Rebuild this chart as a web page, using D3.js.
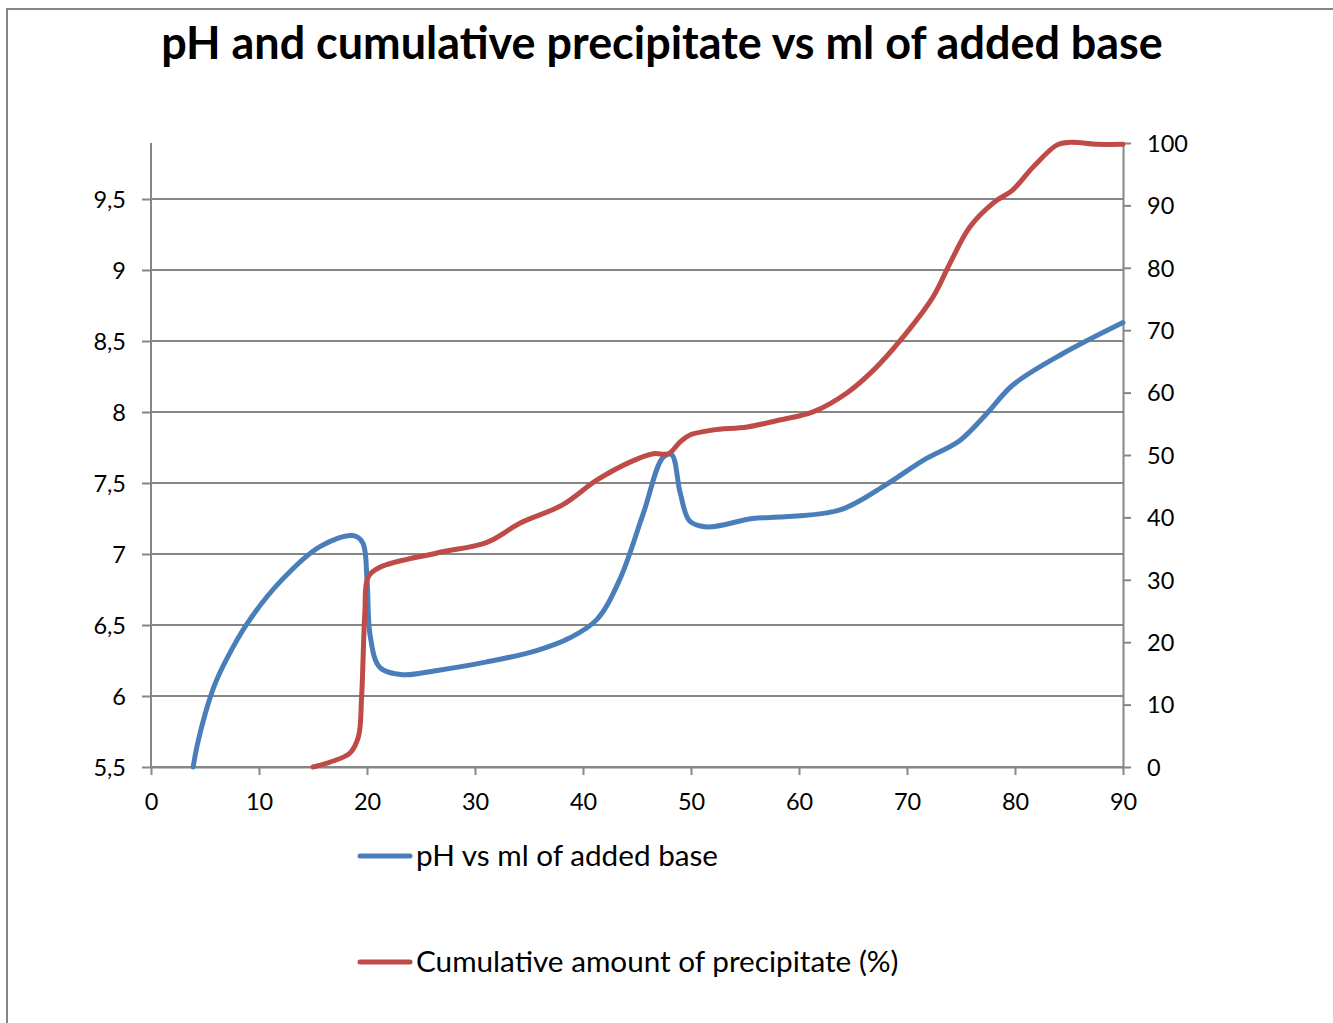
<!DOCTYPE html>
<html><head><meta charset="utf-8">
<script src="https://cdn.jsdelivr.net/npm/d3@7"></script>
<style>body{margin:0;background:#fff}svg{display:block}</style>
</head><body>
<svg id="c" width="1333" height="1023"></svg>
<script>
const titleText = "pH and cumulative precipitate vs ml of added base";
const xTicks = [0,10,20,30,40,50,60,70,80,90];
const leftTicks = [5.5,6,6.5,7,7.5,8,8.5,9,9.5];
const leftTickLabels = ["5,5","6","6,5","7","7,5","8","8,5","9","9,5"];
const rightTicks = [0,10,20,30,40,50,60,70,80,90,100];
const seriesNames = ["pH vs ml of added base","Cumulative amount of precipitate (%)"];

const phMl = [3.9,4.3,5.0,5.9,7.0,8.9,11.9,15.6,18.7,19.6,20.0,20.3,21.2,23.3,26.5,31.1,35.7,38.8,41.3,43.4,45.6,47.4,48.2,49.0,49.9,51.5,55.7,58.2,63.8,68.1,71.5,74.9,77.4,79.8,84.4,90];
const phVal = [5.5,5.66,5.87,6.08,6.26,6.51,6.80,7.05,7.13,7.08,6.82,6.42,6.2,6.15,6.18,6.24,6.32,6.41,6.54,6.82,7.29,7.68,7.70,7.43,7.23,7.19,7.25,7.26,7.31,7.49,7.66,7.80,7.99,8.19,8.41,8.63];

const precMl = [15,16.6,18.4,19.2,19.5,19.8,20.1,21.2,26.5,31.1,34.2,38.1,41.3,44.4,46.5,47.9,49.0,49.9,52,55.2,58.2,61.3,64.4,66.9,69.4,72.4,74.0,75.8,78.0,79.8,81.7,83.9,85.1,87.6,90];
const precVal = [0,0.8,2.2,4.8,11.2,24.7,30.4,32,34.3,36,39.1,42,46,48.9,50.2,50.2,52.1,53.2,54,54.5,55.6,56.9,59.9,63.6,68.4,75.3,80.8,86.5,90.4,92.5,96.2,99.7,100.1,99.8,99.8];

const colors = ["#4a7ebb","#be4b48"];
const gridColor = "#868686";
const font = "Lato, 'Open Sans', sans-serif";

const svg = d3.select("#c");
const L = 151, R = 1123, T = 143, B = 767;
const x = d3.scaleLinear().domain([0,90]).range([L,R]);
const yL = d3.scaleLinear().domain([5.5,9.5]).range([B,199]);
const yR = d3.scaleLinear().domain([0,100]).range([B,T]);

// outer frame
svg.append("rect").attr("x",7).attr("y",9).attr("width",1400).attr("height",1100)
  .attr("fill","none").attr("stroke",gridColor).attr("stroke-width",2);

// title
const title = svg.append("text").attr("x",662).attr("y",59).attr("text-anchor","middle")
  .attr("font-family",font).attr("font-weight","bold").attr("font-size",40).attr("fill","#000").text(titleText);
{ const w = title.node().getComputedTextLength(); title.attr("font-size", 40*1002/w); }

// gridlines
svg.append("g").selectAll("line").data(leftTicks).join("line")
  .attr("x1",L).attr("x2",R).attr("y1",d=>yL(d)).attr("y2",d=>yL(d))
  .attr("stroke",gridColor).attr("stroke-width",2);

// left axis
const gl = svg.append("g").attr("transform",`translate(${L},0)`)
  .call(d3.axisLeft(yL).tickValues(leftTicks).tickFormat((d,i)=>leftTickLabels[i]).tickSize(9).tickSizeOuter(0).tickPadding(16));
gl.select(".domain").attr("d",`M0,${T}V${B}`);
// right axis
const gr = svg.append("g").attr("transform",`translate(${R},0)`)
  .call(d3.axisRight(yR).tickValues(rightTicks).tickSize(8).tickSizeOuter(0).tickPadding(16));
// bottom axis
const gb = svg.append("g").attr("transform",`translate(0,${B})`)
  .call(d3.axisBottom(x).tickValues(xTicks).tickSize(8).tickSizeOuter(0).tickPadding(18));
[gl,gr,gb].forEach(g=>{
  g.selectAll(".domain,line").attr("stroke",gridColor).attr("stroke-width",2);
  g.selectAll("text").attr("font-family",font).attr("font-size",23.5).attr("fill","#000");
});
gl.selectAll("text").attr("dy","0.35em");
gr.selectAll("text").attr("dy","0.35em");

// series
const line = d3.line().curve(d3.curveCatmullRom.alpha(0.5));
const phPts = phMl.map((m,i)=>[x(m), yL(phVal[i])]);
const precPts = precMl.map((m,i)=>[x(m), yR(precVal[i])]);
svg.append("path").attr("d",line(phPts)).attr("fill","none").attr("stroke",colors[0])
  .attr("stroke-width",5).attr("stroke-linejoin","round").attr("stroke-linecap","round");
svg.append("path").attr("d",line(precPts)).attr("fill","none").attr("stroke",colors[1])
  .attr("stroke-width",5).attr("stroke-linejoin","round").attr("stroke-linecap","round");

// legend
const legY = [856, 962];
seriesNames.forEach((n,i)=>{
  svg.append("line").attr("x1",360).attr("x2",410).attr("y1",legY[i]).attr("y2",legY[i])
    .attr("stroke",colors[i]).attr("stroke-width",5).attr("stroke-linecap","round");
  svg.append("text").attr("x",416).attr("y",legY[i]).attr("dy","0.35em")
    .attr("font-family",font).attr("font-size",29.7).attr("fill","#000").text(n);
});
</script>
</body></html>
